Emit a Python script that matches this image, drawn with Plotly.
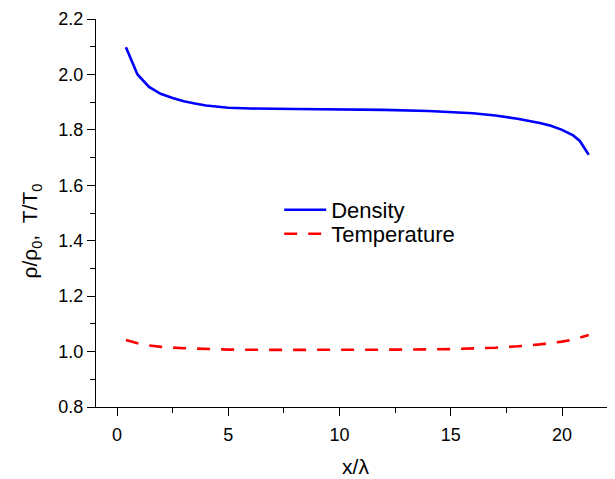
import plotly.graph_objects as go

# Data
x_density = [0.4, 0.92, 1.44, 1.96, 2.5, 3.0, 3.5, 4.0, 5.0, 6.0, 8.0, 10.0, 12.0, 14.0, 15.0,
             16.0, 17.0, 18.0, 19.0, 19.5, 20.0, 20.5, 20.8, 21.2]
density = [2.098, 2.000, 1.955, 1.930, 1.915, 1.903, 1.895, 1.888, 1.880, 1.877, 1.875, 1.874,
           1.872, 1.868, 1.865, 1.860, 1.852, 1.840, 1.825, 1.815, 1.800, 1.780, 1.760, 1.710]

x_temperature = [0.4, 0.92, 1.44, 2.0, 3.0, 4.0, 5.0, 7.0, 10.0, 13.0, 15.0, 16.0, 17.0, 18.0,
                 19.0, 20.0, 20.6, 21.2]
temperature = [1.042, 1.030, 1.022, 1.017, 1.012, 1.009, 1.007, 1.006, 1.006, 1.007, 1.009,
               1.011, 1.014, 1.019, 1.026, 1.036, 1.045, 1.060]

x_ticks = [0, 5, 10, 15, 20]
x_minor = [2.5, 7.5, 12.5, 17.5]
y_ticks = [0.8, 1.0, 1.2, 1.4, 1.6, 1.8, 2.0, 2.2]
y_minor = [0.9, 1.1, 1.3, 1.5, 1.7, 1.9, 2.1]

FONT = "Liberation Sans, Arial, sans-serif"

fig = go.Figure()
fig.add_trace(go.Scatter(x=x_density, y=density, mode="lines", name="Density",
                         line=dict(color="#0000ff", width=2.6), legend="legend"))
fig.add_trace(go.Scatter(x=x_temperature, y=temperature, mode="lines", name="Temperature",
                         line=dict(color="#ff0000", width=2.6, dash="13px,11px"), legend="legend2"))

legend_style = dict(xanchor="left", yanchor="top", bgcolor="rgba(0,0,0,0)",
                    font=dict(size=22, family=FONT), itemwidth=42)

# the page body adds an 8px margin, so the figure is 8px smaller and margins shifted
fig.update_layout(
    width=607, height=471,
    margin=dict(l=88, r=0, t=11, b=72),
    paper_bgcolor="white", plot_bgcolor="white",
    font=dict(family=FONT, color="black", size=18),
    showlegend=True,
    legend=dict(x=0.353, y=0.562, **legend_style),
    legend2=dict(x=0.353, y=0.500, **legend_style),
)
fig.update_xaxes(
    automargin=False,
    range=[-0.944, 22.38], tickvals=x_ticks, ticktext=[str(v) for v in x_ticks],
    showline=True, linecolor="black", linewidth=1.3, showgrid=False, zeroline=False,
    ticks="outside", ticklen=8, tickwidth=1.3, tickcolor="black", ticklabelstandoff=3,
    minor=dict(tickvals=x_minor, ticks="outside", ticklen=5, tickwidth=1.3,
               tickcolor="black", showgrid=False),
    tickfont=dict(size=18, family=FONT),
    title=dict(text="x/λ", font=dict(size=21, family=FONT), standoff=15),
)
fig.update_yaxes(
    automargin=False,
    range=[0.8, 2.2], tickvals=y_ticks, ticktext=[f"{v:.1f}" for v in y_ticks],
    showline=True, linecolor="black", linewidth=1.3, showgrid=False, zeroline=False,
    ticks="outside", ticklen=8, tickwidth=1.3, tickcolor="black",
    minor=dict(tickvals=y_minor, ticks="outside", ticklen=5,
               tickwidth=1.3, tickcolor="black", showgrid=False),
    tickfont=dict(size=18, family=FONT),
)
fig.add_annotation(
    text="ρ/ρ<sub>0</sub>,  T/T<sub>0</sub>", textangle=-90,
    xref="paper", x=0, xanchor="center", xshift=-65,
    yref="y", y=1.433, yanchor="middle",
    showarrow=False, font=dict(size=21, family=FONT, color="black"),
)

fig.write_html("out.html")
